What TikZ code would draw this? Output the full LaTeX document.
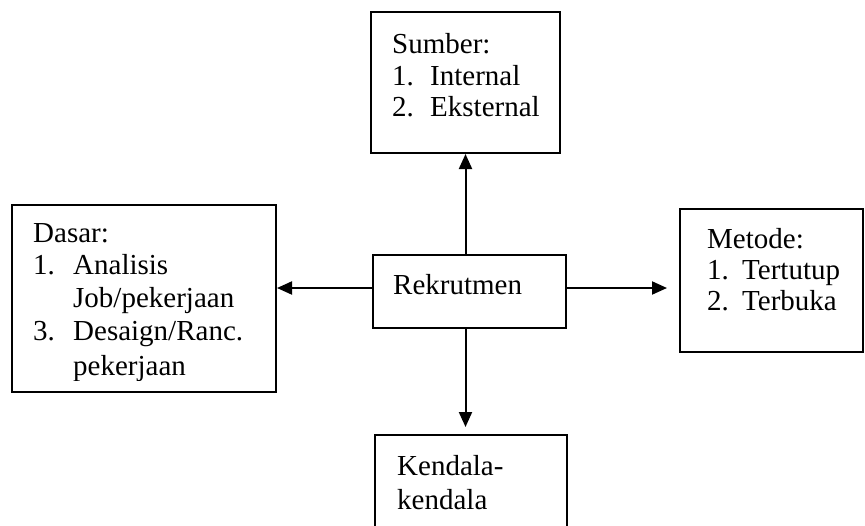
\documentclass[tikz,border=0pt]{standalone}
\usepackage{fontspec}
\setmainfont{Liberation Serif}
\usetikzlibrary{arrows.meta}
\begin{document}
\begin{tikzpicture}[x=1pt,y=-1pt,
  box/.style={draw, line width=2pt, minimum width=#1, inner sep=0pt},
  txt/.style={anchor=base west, inner sep=0pt, font=\fontsize{29}{32}\selectfont},
  arr/.style={line width=2pt, -{Triangle[length=15pt,width=13pt]}}]
\useasboundingbox (0,0) rectangle (865,525);
\clip (0,0) rectangle (865,525);
\fill[white] (0,0) rectangle (865,525);
% boxes
\node[box=189pt, minimum height=141pt] (sumber) at (465.5,82.5) {};
\node[box=264pt, minimum height=187pt] (dasar) at (144,298.5) {};
\node[box=183pt, minimum height=143pt] (metode) at (771.5,280.5) {};
\node[box=193pt, minimum height=73pt] (rek) at (469.5,291.5) {};
\node[box=192pt, minimum height=150pt] (kend) at (471,510) {};
\coordinate (hub) at (465.5,288);
% texts
\node[txt] (s0) at (392,53) {Sumber:};
\node[txt] (s1n) at (392,85) {1.};
\node[txt] (s1) at (430,85) {Internal};
\node[txt] (s2n) at (392,116) {2.};
\node[txt] (s2) at (430,116) {Eksternal};
\begin{scope}
\clip (12,205) rectangle (276,380);
\node[txt] (d0) at (33,242) {Dasar:};
\node[txt] (d1n) at (33,274) {1.};
\node[txt] (d1) at (73,274) {Analisis};
\node[txt] (d1b) at (73,307) {Job/pekerjaan};
\node[txt] (d3n) at (33,340) {3.};
\node[txt] (d3) at (73,340) {Desaign/Ranc.};
\node[txt] (d3b) at (73,375) {pekerjaan};
\end{scope}
\node[txt] (m0) at (707,248) {Metode:};
\node[txt] (m1n) at (707,279) {1.};
\node[txt] (m1) at (742,279) {Tertutup};
\node[txt] (m2n) at (707,310) {2.};
\node[txt] (m2) at (742,310) {Terbuka};
\node[txt] (r0) at (393,294) {Rekrutmen};
\node[txt] (k0) at (397,475) {Kendala-};
\node[txt] (k1) at (397,509) {kendala};
% arrows
\draw[arr] (rek.north -| hub) -- (sumber.south -| hub);
\draw[arr, shorten >=7pt] (rek.south -| hub) -- (kend.north -| hub);
\draw[arr] (rek.west |- hub) -- (dasar.east |- hub);
\draw[arr, shorten >=12pt] (rek.east |- hub) -- (metode.west |- hub);
\end{tikzpicture}
\end{document}
